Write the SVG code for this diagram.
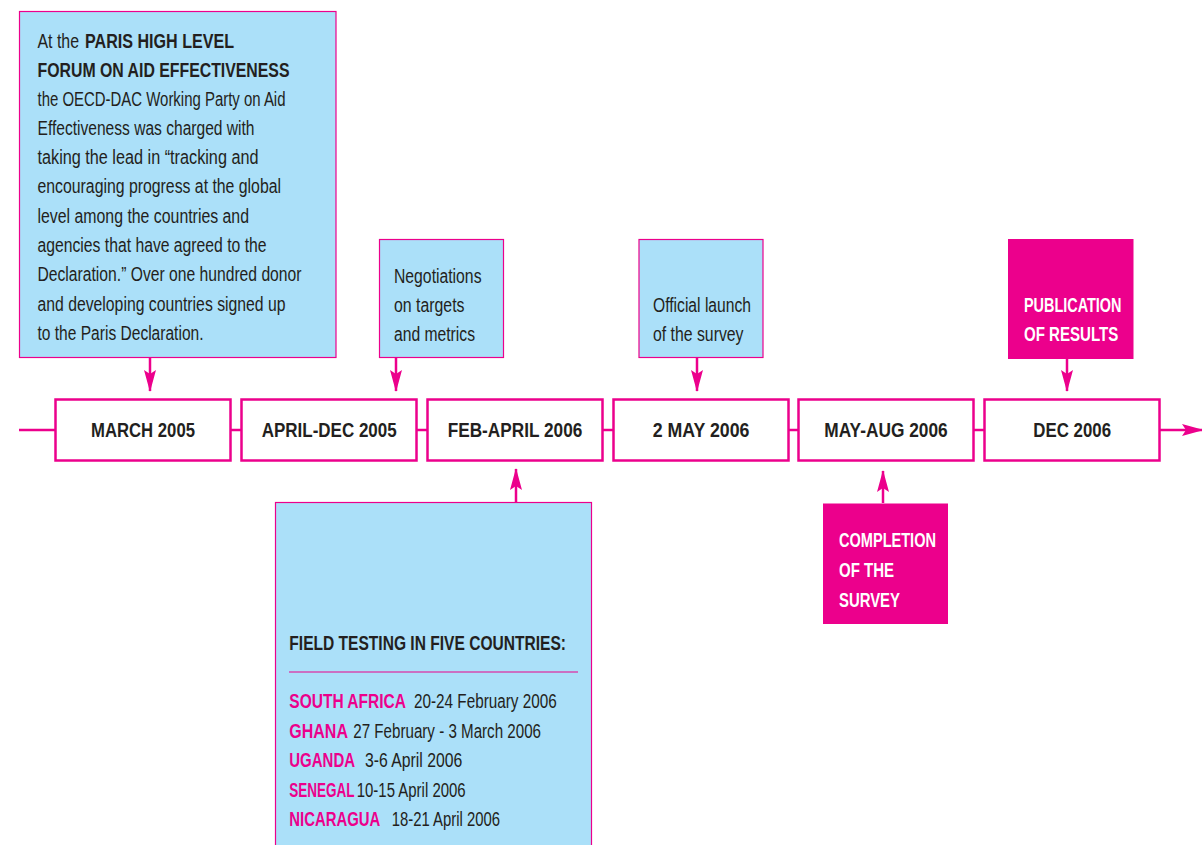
<svg xmlns="http://www.w3.org/2000/svg" width="1202" height="845" viewBox="0 0 1202 845">
<defs>
<style>
text{font-family:"Liberation Sans",Arial,sans-serif;fill:#231f20;font-size:20px}
.b{font-weight:bold}
.w{fill:#ffffff}
.p{fill:#ec008c}
.lbl{font-weight:bold;font-size:20px}
.note{fill:#abe0f9;stroke:#ec008c;stroke-width:1.2}
.hot{fill:#ec008c}
.tl{fill:#ffffff;stroke:#ec008c;stroke-width:2.5}
.c{stroke:#ec008c;stroke-width:2.5;fill:none}
</style>
<marker id="ah" viewBox="0 0 22 12" refX="21" refY="6" markerWidth="22" markerHeight="12" markerUnits="userSpaceOnUse" orient="auto">
<path d="M0,0 L22,6 L0,12 L4,6 Z" fill="#ec008c"/>
</marker>
</defs>

<g id="connectors">
<line class="c" x1="19" y1="430" x2="55" y2="430"/>
<line class="c" x1="231" y1="430" x2="241" y2="430"/>
<line class="c" x1="417" y1="430" x2="427" y2="430"/>
<line class="c" x1="603" y1="430" x2="613" y2="430"/>
<line class="c" x1="789" y1="430" x2="798" y2="430"/>
<line class="c" x1="974" y1="430" x2="984" y2="430"/>
<line class="c" x1="1160" y1="430" x2="1203" y2="430" marker-end="url(#ah)"/>
<line class="c" x1="150" y1="358" x2="150" y2="391" marker-end="url(#ah)"/>
<line class="c" x1="396" y1="357" x2="396" y2="391" marker-end="url(#ah)"/>
<line class="c" x1="697" y1="357" x2="697" y2="391" marker-end="url(#ah)"/>
<line class="c" x1="1067" y1="358" x2="1067" y2="391" marker-end="url(#ah)"/>
<line class="c" x1="516" y1="502" x2="516" y2="469" marker-end="url(#ah)"/>
<line class="c" x1="883" y1="503" x2="883" y2="471" marker-end="url(#ah)"/>
</g>

<g id="paris-forum">
<rect class="note" x="19.5" y="11.5" width="316.5" height="346"/>
<text x="37.5" y="48" textLength="41.5" lengthAdjust="spacingAndGlyphs">At the</text>
<text class="b" x="85" y="48" textLength="149" lengthAdjust="spacingAndGlyphs">PARIS HIGH LEVEL</text>
<text class="b" x="37.5" y="77" textLength="252" lengthAdjust="spacingAndGlyphs">FORUM ON AID EFFECTIVENESS</text>
<text x="37.5" y="106" textLength="248" lengthAdjust="spacingAndGlyphs">the OECD-DAC Working Party on Aid</text>
<text x="37.5" y="135" textLength="217" lengthAdjust="spacingAndGlyphs">Effectiveness was charged with</text>
<text x="37.5" y="164" textLength="221" lengthAdjust="spacingAndGlyphs">taking the lead in “tracking and</text>
<text x="37.5" y="193" textLength="243.5" lengthAdjust="spacingAndGlyphs">encouraging progress at the global</text>
<text x="37.5" y="223" textLength="211.5" lengthAdjust="spacingAndGlyphs">level among the countries and</text>
<text x="37.5" y="252" textLength="229" lengthAdjust="spacingAndGlyphs">agencies that have agreed to the</text>
<text x="37.5" y="281" textLength="264" lengthAdjust="spacingAndGlyphs">Declaration.” Over one hundred donor</text>
<text x="37.5" y="311" textLength="248" lengthAdjust="spacingAndGlyphs">and developing countries signed up</text>
<text x="37.5" y="340" textLength="166" lengthAdjust="spacingAndGlyphs">to the Paris Declaration.</text>
</g>

<g id="negotiations">
<rect class="note" x="379.5" y="239.5" width="124" height="118"/>
<text x="394" y="283" textLength="87.5" lengthAdjust="spacingAndGlyphs">Negotiations</text>
<text x="394" y="312" textLength="70.5" lengthAdjust="spacingAndGlyphs">on targets</text>
<text x="394" y="341" textLength="81" lengthAdjust="spacingAndGlyphs">and metrics</text>
</g>

<g id="official-launch">
<rect class="note" x="639" y="239.5" width="124" height="118"/>
<text x="653" y="312" textLength="98" lengthAdjust="spacingAndGlyphs">Official launch</text>
<text x="653" y="341" textLength="90.5" lengthAdjust="spacingAndGlyphs">of the survey</text>
</g>

<g id="publication">
<rect class="hot" x="1008" y="239" width="125.5" height="120"/>
<text class="b w" x="1024" y="312" textLength="97.5" lengthAdjust="spacingAndGlyphs">PUBLICATION</text>
<text class="b w" x="1024" y="341" textLength="94.3" lengthAdjust="spacingAndGlyphs">OF RESULTS</text>
</g>

<g id="march-2005">
<rect class="tl" x="55.5" y="399.5" width="175" height="61"/>
<text class="lbl" x="91" y="437" textLength="104" lengthAdjust="spacingAndGlyphs">MARCH 2005</text>
</g>
<g id="april-dec-2005">
<rect class="tl" x="241.5" y="399.5" width="175" height="61"/>
<text class="lbl" x="261.7" y="437" textLength="135" lengthAdjust="spacingAndGlyphs">APRIL-DEC 2005</text>
</g>
<g id="feb-april-2006">
<rect class="tl" x="427.5" y="399.5" width="175" height="61"/>
<text class="lbl" x="447.7" y="437" textLength="134.6" lengthAdjust="spacingAndGlyphs">FEB-APRIL 2006</text>
</g>
<g id="may-2-2006">
<rect class="tl" x="613.5" y="399.5" width="175" height="61"/>
<text class="lbl" x="652.7" y="437" textLength="96.7" lengthAdjust="spacingAndGlyphs">2 MAY 2006</text>
</g>
<g id="may-aug-2006">
<rect class="tl" x="798.5" y="399.5" width="175" height="61"/>
<text class="lbl" x="824.3" y="437" textLength="123.4" lengthAdjust="spacingAndGlyphs">MAY-AUG 2006</text>
</g>
<g id="dec-2006">
<rect class="tl" x="984.5" y="399.5" width="175" height="61"/>
<text class="lbl" x="1033.3" y="437" textLength="77.7" lengthAdjust="spacingAndGlyphs">DEC 2006</text>
</g>

<g id="field-testing">
<rect class="note" x="275.5" y="502.5" width="316" height="350"/>
<text class="b" x="289.3" y="650" textLength="276.7" lengthAdjust="spacingAndGlyphs">FIELD TESTING IN FIVE COUNTRIES:</text>
<line x1="289" y1="672" x2="578" y2="672" stroke="#ec008c" stroke-width="1.2"/>
<text class="b p" transform="translate(289.3 708) scale(0.776 1)">SOUTH AFRICA</text>
<text x="414" y="708" textLength="142.7" lengthAdjust="spacingAndGlyphs">20-24 February 2006</text>
<text class="b p" transform="translate(289.3 738) scale(0.80 1)">GHANA</text>
<text x="353.3" y="738" textLength="187.7" lengthAdjust="spacingAndGlyphs">27 February - 3 March 2006</text>
<text class="b p" transform="translate(289.3 767) scale(0.75 1)">UGANDA</text>
<text x="365" y="767" textLength="97.3" lengthAdjust="spacingAndGlyphs">3-6 April 2006</text>
<text class="b p" transform="translate(289.3 797) scale(0.676 1)">SENEGAL</text>
<text x="356.7" y="797" textLength="109" lengthAdjust="spacingAndGlyphs">10-15 April 2006</text>
<text class="b p" transform="translate(289.3 826) scale(0.745 1)">NICARAGUA</text>
<text x="391.7" y="826" textLength="108.3" lengthAdjust="spacingAndGlyphs">18-21 April 2006</text>
</g>

<g id="completion">
<rect class="hot" x="823" y="503.5" width="125" height="120.5"/>
<text class="b w" x="839" y="547" textLength="97" lengthAdjust="spacingAndGlyphs">COMPLETION</text>
<text class="b w" x="839" y="577" textLength="55" lengthAdjust="spacingAndGlyphs">OF THE</text>
<text class="b w" x="839" y="607" textLength="61" lengthAdjust="spacingAndGlyphs">SURVEY</text>
</g>
</svg>
